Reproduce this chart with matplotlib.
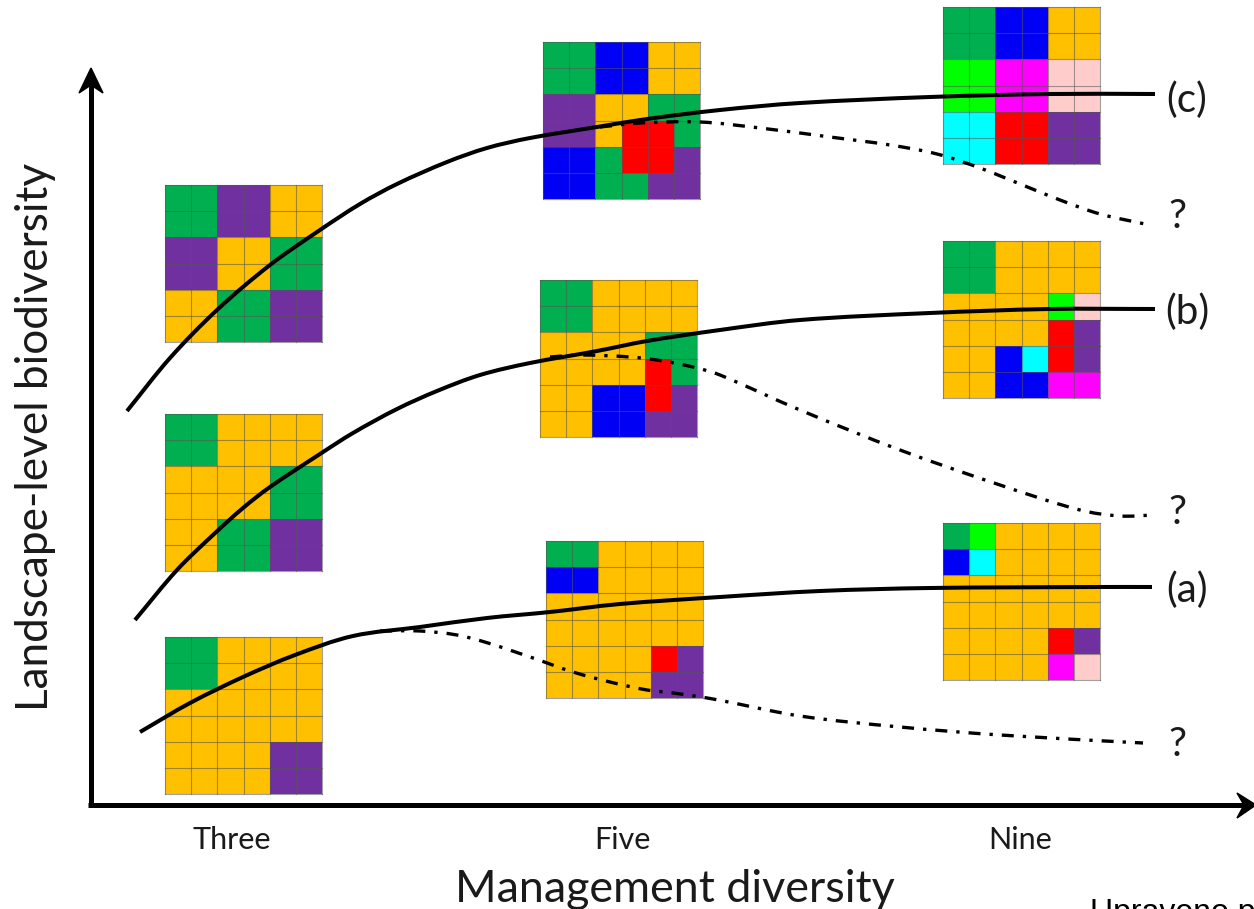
import numpy as np
import matplotlib
matplotlib.use("Agg")
import matplotlib.pyplot as plt
from matplotlib.colors import ListedColormap
from matplotlib.path import Path
from matplotlib.patches import PathPatch

# landscape mosaics, one letter per cell
colors = {
    "G": "#00B050", "P": "#7030A0", "O": "#FFC000", "B": "#0000F5", "R": "#FF0000",
    "L": "#00FF00", "M": "#FF00FF", "C": "#00FFFF", "K": "#FFCCCC",
}
three_c = ["GGPPOO", "GGPPOO", "PPOOGG", "PPOOGG", "OOGGPP", "OOGGPP"]
three_b = ["GGOOOO", "GGOOOO", "OOOOGG", "OOOOGG", "OOGGPP", "OOGGPP"]
three_a = ["GGOOOO", "GGOOOO", "OOOOOO", "OOOOOO", "OOOOPP", "OOOOPP"]
five_c = ["GGBBOO", "GGBBOO", "PPOOGG", "PPORRG", "BBGRRP", "BBGGPP"]
five_b = ["GGOOOO", "GGOOOO", "OOOOGG", "OOOORG", "OOBBRP", "OOBBPP"]
five_a = ["GGOOOO", "BBOOOO", "OOOOOO", "OOOOOO", "OOOORP", "OOOOPP"]
nine_c = ["GGBBOO", "GGBBOO", "LLMMKK", "LLMMKK", "CCRRPP", "CCRRPP"]
nine_b = ["GGOOOO", "GGOOOO", "OOOOLK", "OOOORP", "OOBCRP", "OOBBMM"]
nine_a = ["GLOOOO", "BCOOOO", "OOOOOO", "OOOOOO", "OOOORP", "OOOOMK"]

# curves (pixel positions)
curve_c_x = [127, 170, 217, 270, 320, 360, 397, 447, 487, 530, 597, 647, 720, 800, 930, 1050, 1155]
curve_c_y = [411, 358, 310, 265, 230, 204, 184, 162, 148, 138, 127, 119, 110, 103, 97, 94, 94]
curve_b_x = [135, 177, 213, 243, 270, 320, 353, 397, 437, 480, 530, 597, 647, 720, 800, 930, 1050, 1155]
curve_b_y = [620, 570, 535, 508, 487, 454, 433, 409, 391, 375, 363, 351, 341, 330, 320, 313, 309, 309]
curve_a_x = [140, 190, 243, 295, 353, 420, 487, 550, 620, 720, 820, 930, 1100, 1152]
curve_a_y = [732, 703, 677, 655, 636, 627, 618, 612, 604, 597, 591, 588, 587, 587]

dash_c_x = [600, 640, 700, 760, 830, 890, 937, 980, 1025, 1060, 1100, 1145]
dash_c_y = [127, 123, 122, 128, 137, 145, 154, 168, 186, 200, 214, 224]
dash_b_x = [550, 580, 630, 663, 697, 720, 800, 900, 1000, 1080, 1120, 1155]
dash_b_y = [357, 355, 357, 361, 368, 375, 410, 450, 485, 510, 516, 515]
dash_a_x = [380, 420, 457, 488, 533, 573, 610, 647, 673, 713, 800, 900, 1000, 1143]
dash_a_y = [631, 631, 635, 643, 658, 672, 682, 690, 693, 699, 716, 727, 735, 743]

diversity_labels = ["Three", "Five", "Nine"]
scenario_labels = ["(c)", "(b)", "(a)"]

fig = plt.figure(figsize=(12.54, 9.09), dpi=100)
ax = fig.add_axes([0, 0, 1, 1])
ax.set_xlim(0, 1254)
ax.set_ylim(909, 0)
ax.axis("off")

letters = list(colors)
cmap = ListedColormap([colors[k] for k in letters])


def draw_grid(rows, left, top, size=157):
    vals = np.array([[letters.index(c) for c in row] for row in rows])
    xs = np.linspace(left, left + size, 7)
    ys = np.linspace(top, top + size, 7)
    ax.pcolormesh(xs, ys, vals, cmap=cmap, vmin=-0.5, vmax=len(letters) - 0.5, zorder=1)
    for v in xs:
        ax.plot([v, v], [top, top + size], color="#555555", alpha=0.55, lw=0.8, zorder=2)
    for v in ys:
        ax.plot([left, left + size], [v, v], color="#555555", alpha=0.55, lw=0.8, zorder=2)


def draw_curve(xs, ys, **style):
    # smooth bezier through the read points
    pts = np.column_stack([xs, ys]).astype(float)
    tangents = np.gradient(pts, axis=0)
    verts = [pts[0]]
    codes = [Path.MOVETO]
    for i in range(len(pts) - 1):
        step = np.hypot(*(pts[i + 1] - pts[i]))
        t0 = tangents[i] / np.hypot(*tangents[i])
        t1 = tangents[i + 1] / np.hypot(*tangents[i + 1])
        verts += [pts[i] + t0 * step / 3, pts[i + 1] - t1 * step / 3, pts[i + 1]]
        codes += [Path.CURVE4] * 3
    ax.add_patch(PathPatch(Path(verts, codes), fill=False, edgecolor="black", capstyle="butt", **style))


draw_grid(three_c, 165, 185)
draw_grid(three_b, 165, 414)
draw_grid(three_a, 165, 637)
draw_grid(five_c, 543, 42)
draw_grid(five_b, 540, 280)
draw_grid(five_a, 546, 541)
draw_grid(nine_c, 943, 7)
draw_grid(nine_b, 943, 241)
draw_grid(nine_a, 943, 523)

for xs, ys in [(curve_c_x, curve_c_y), (curve_b_x, curve_b_y), (curve_a_x, curve_a_y)]:
    draw_curve(xs, ys, lw=2.9, zorder=4)
for xs, ys in [(dash_c_x, dash_c_y), (dash_b_x, dash_b_y), (dash_a_x, dash_a_y)]:
    draw_curve(xs, ys, lw=2.4, ls=(0, (3.6, 2.7, 1, 2.7)), zorder=3)

# axes with barbed arrow heads
ax.plot([91, 91], [807, 80], color="black", lw=3.6, solid_capstyle="butt", zorder=5)
ax.plot([88, 1245], [805, 805], color="black", lw=3.6, solid_capstyle="butt", zorder=5)
ax.fill([91, 79, 91, 103], [68, 93, 85, 93], color="black", zorder=5)
ax.fill([1256, 1237, 1244, 1237], [805, 793, 805, 818], color="black", zorder=5)

font = "Lato"
ax.text(36, 437, "Landscape-level biodiversity", rotation=90, ha="center", va="center",
        fontsize=31.8, family=font, color="#1a1a1a")
ax.text(675, 889, "Management diversity", ha="center", va="center", fontsize=32.3, family=font, color="#1a1a1a")
for x, label in zip([232, 622, 1020], diversity_labels):
    ax.text(x, 840, label, ha="center", va="center", fontsize=22, family=font, color="#1a1a1a")
for y, label in zip([100, 312, 590], scenario_labels):
    ax.text(1187, y, label, ha="center", va="center", fontsize=29, family=font, color="#1a1a1a")
for y in [217, 512, 745]:
    ax.text(1177, y, "?", ha="center", va="center", fontsize=29, family=font, color="#1a1a1a")
ax.text(1090, 921, "Upraveno p", ha="left", va="baseline", fontsize=23, family="Liberation Sans",
        color="black")

fig.savefig("out.png", dpi=100)
